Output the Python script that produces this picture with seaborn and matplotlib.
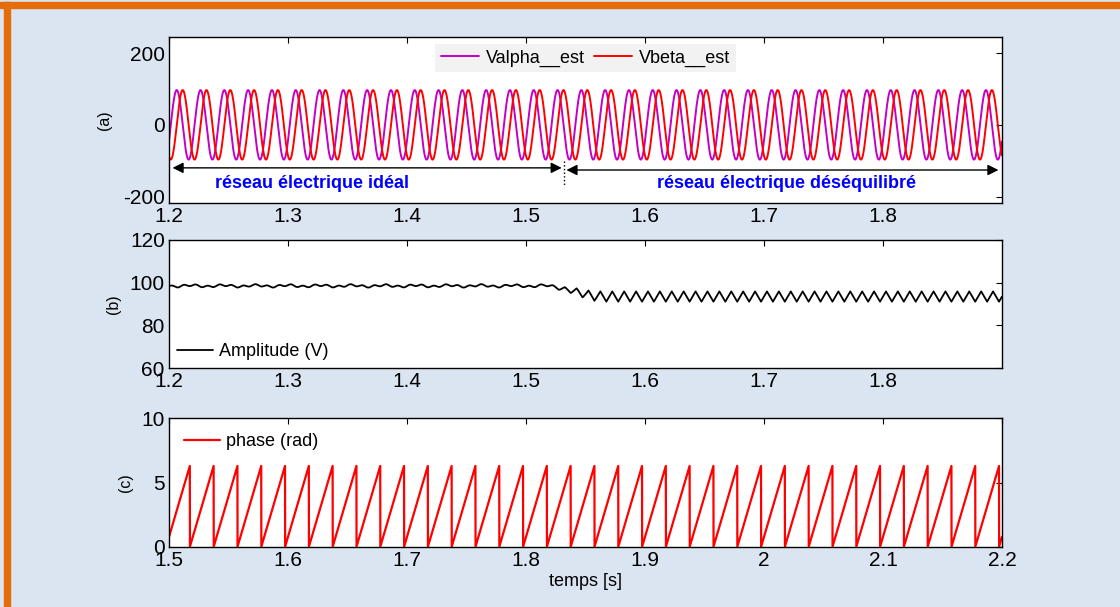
import numpy as np
import pandas as pd
import matplotlib
matplotlib.use("Agg")
import matplotlib.pyplot as plt
from matplotlib.patches import Rectangle
import seaborn as sns

# values (50 Hz grid, PLL estimates)
f_grid = 50.0             # Hz
v_peak = 97.0             # amplitude of Valpha / Vbeta estimates
t_alpha_peak = 1.2065     # first Valpha crest
beta_lag = 0.005          # Vbeta lags a quarter period
amp_ideal = 98.5          # amplitude, ideal grid
amp_unbal = 93.5          # mean amplitude, unbalanced grid
ripple_half = 2.4         # 100 Hz ripple half-amplitude
t_fault = 1.532           # switch to unbalanced grid
t_wrap0 = 1.5175          # first phase wrap seen in (c)

top_ticks = [1.2, 1.3, 1.4, 1.5, 1.6, 1.7, 1.8]
bot_ticks = [1.5, 1.6, 1.7, 1.8, 1.9, 2.0, 2.1, 2.2]
bot_labels = ["1.5", "1.6", "1.7", "1.8", "1.9", "2", "2.1", "2.2"]

# sampled signals
t1 = np.arange(1.2, 1.9, 1e-4)
w = 2 * np.pi * f_grid
valpha = v_peak * np.cos(w * (t1 - t_alpha_peak))
vbeta = v_peak * np.cos(w * (t1 - t_alpha_peak - beta_lag))

ramp = np.clip((t1 - 1.515) / 0.05, 0, 1)
ramp = ramp * ramp * (3 - 2 * ramp)
jitter = 0.45 * np.sin(2 * np.pi * 100 * t1) + 0.35 * np.sin(2 * np.pi * 37 * t1 + 1.0)
zigzag = 2 / np.pi * np.arcsin(np.sin(2 * np.pi * 100 * (t1 - 1.5)))
amp = amp_ideal - (amp_ideal - amp_unbal) * ramp + jitter * (1 - ramp) + ripple_half * ramp * zigzag

t2 = np.arange(1.5, 2.2, 1e-4)
phase = 2 * np.pi * np.mod((t2 - t_wrap0) * f_grid, 1.0)

df_top = pd.DataFrame({"t": t1, "Valpha__est": valpha, "Vbeta__est": vbeta, "amp": amp})
df_bot = pd.DataFrame({"t": t2, "phase": phase})

sns.set_theme(style="white")
plt.rcParams["font.family"] = ["Liberation Sans", "DejaVu Sans"]
plt.rcParams["axes.unicode_minus"] = False
plt.rcParams["text.color"] = "black"
plt.rcParams["axes.labelcolor"] = "black"

bg = "#DBE5F1"
fig = plt.figure(figsize=(11.2, 6.07), dpi=100, facecolor=bg)
fig.patches.append(Rectangle((0, 1 - 8 / 607), 1, 6 / 607, transform=fig.transFigure,
                             color="#E46C0A", zorder=0))
fig.patches.append(Rectangle((4 / 1120, 0), 6 / 1120, 1 - 2 / 607, transform=fig.transFigure,
                             color="#E46C0A", zorder=0))

ax1 = fig.add_axes([169 / 1120, 1 - 203 / 607, 833 / 1120, 166 / 607])
ax2 = fig.add_axes([169 / 1120, 1 - 368 / 607, 833 / 1120, 128 / 607])
ax3 = fig.add_axes([169 / 1120, 1 - 547 / 607, 833 / 1120, 129 / 607])

# (a)
sns.lineplot(data=df_top, x="t", y="Valpha__est", ax=ax1, color="#C400C4", lw=1.4,
             label="Valpha__est", estimator=None, sort=False)
sns.lineplot(data=df_top, x="t", y="Vbeta__est", ax=ax1, color="#FF0000", lw=1.4,
             label="Vbeta__est", estimator=None, sort=False)
ax1.set_xlim(1.2, 1.9)
ax1.set_ylim(-218, 245)
ax1.set_yticks([-200, 0, 200])
ax1.set_ylabel("(a)", fontsize=11.5, labelpad=8)
ax1.legend(loc="upper center", ncol=2, fontsize=13, frameon=True, facecolor="#F2F2F2",
           edgecolor="none", fancybox=False, framealpha=1, handlelength=2.1,
           handletextpad=0.4, columnspacing=0.5, borderaxespad=0.4,
           borderpad=0.3)

arrow = dict(arrowstyle="<|-|>", color="black", lw=1.0, mutation_scale=16,
             shrinkA=0, shrinkB=0)
ax1.annotate("", xy=(1.203, -120), xytext=(t_fault - 0.002, -120), arrowprops=arrow)
ax1.annotate("", xy=(t_fault + 0.002, -126), xytext=(1.897, -126), arrowprops=arrow)
ax1.plot([t_fault, t_fault], [-100, -168], color="black", lw=1.0, ls=":")
ax1.text(1.320, -163, "réseau électrique idéal", color="#0000FF", fontsize=13,
         fontweight="bold", ha="center", va="center")
ax1.text(1.719, -163, "réseau électrique déséquilibré", color="#0000FF", fontsize=13,
         fontweight="bold", ha="center", va="center")

# (b)
sns.lineplot(data=df_top, x="t", y="amp", ax=ax2, color="black", lw=1.3,
             label="Amplitude (V)", estimator=None, sort=False)
ax2.set_xlim(1.2, 1.9)
ax2.set_ylim(60, 120)
ax2.set_yticks([60, 80, 100, 120])
ax2.set_ylabel("(b)", fontsize=11.5, labelpad=6)
ax2.legend(loc="lower left", fontsize=13, frameon=False, handlelength=2.0,
           handletextpad=0.3, borderaxespad=0.05)

# (c)
sns.lineplot(data=df_bot, x="t", y="phase", ax=ax3, color="#FF0000", lw=1.6,
             label="phase (rad)", estimator=None, sort=False)
ax3.set_xlim(1.5, 2.2)
ax3.set_ylim(0, 10)
ax3.set_yticks([0, 5, 10])
ax3.set_ylabel("(c)", fontsize=11.5, labelpad=6)
ax3.set_xticks(bot_ticks)
ax3.set_xticklabels(bot_labels)
ax3.set_xlabel("temps [s]", fontsize=13, labelpad=2)
ax3.legend(loc="upper left", fontsize=13, frameon=False, handlelength=2.0,
           handletextpad=0.3, borderaxespad=0.45)

for ax in (ax1, ax2):
    ax.set_xticks(top_ticks)
    ax.set_xticklabels([f"{v:.1f}" for v in top_ticks])
    ax.set_xlabel("")

for ax in (ax1, ax2, ax3):
    ax.set_facecolor("white")
    ax.tick_params(direction="in", top=True, right=True, length=4, width=0.8,
                   labelsize=15, pad=3, colors="black")
    for s in ax.spines.values():
        s.set_color("black")
        s.set_linewidth(1.0)

fig.savefig("out.png", dpi=100, facecolor=bg)
